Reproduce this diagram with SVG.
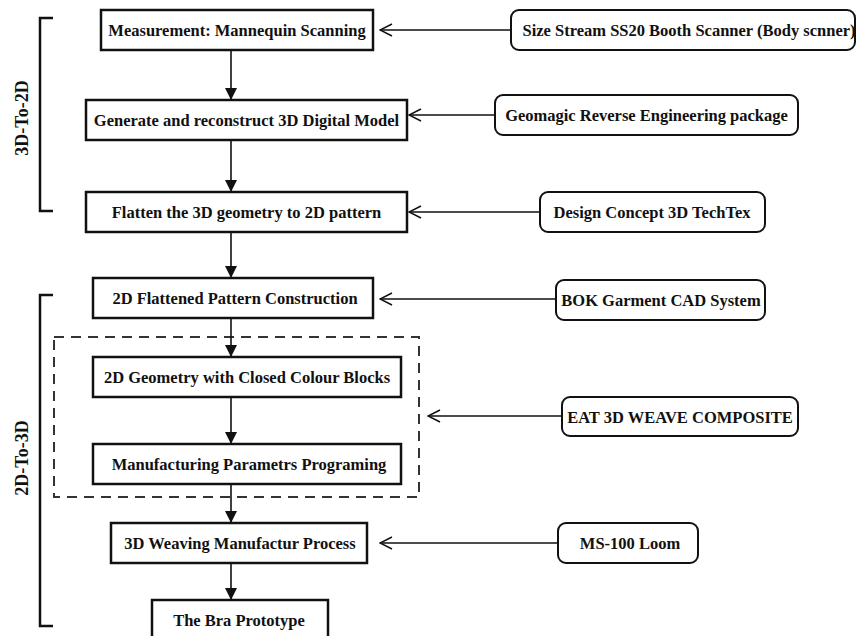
<svg xmlns="http://www.w3.org/2000/svg" width="857" height="636" viewBox="0 0 857 636">
<style>
.box{fill:#fff;stroke:#111;stroke-width:2.5}
.tool{fill:#fff;stroke:#111;stroke-width:2}
.t{font-family:"Liberation Serif","Times New Roman",serif;font-weight:bold;font-size:16.5px;fill:#111;text-anchor:middle}
.lbl{font-family:"Liberation Serif","Times New Roman",serif;font-weight:bold;font-size:18px;fill:#111;text-anchor:middle}
.flow{stroke:#111;stroke-width:1.6;fill:none}
.in{stroke:#111;stroke-width:1.4;fill:none}
.br{stroke:#111;stroke-width:2.5;fill:none}
.dash{stroke:#333;stroke-width:2;fill:none;stroke-dasharray:10 7}
</style>
<defs>
<marker id="tri" markerWidth="12" markerHeight="12" refX="12" refY="6" orient="auto" markerUnits="userSpaceOnUse">
<path d="M0,0 L12,6 L0,12 Z" fill="#111"/>
</marker>
<marker id="chev" markerWidth="14" markerHeight="14" refX="13" refY="7" orient="auto" markerUnits="userSpaceOnUse">
<path d="M1,1 L13,7 L1,13" fill="none" stroke="#111" stroke-width="1.5"/>
</marker>
</defs>

<g id="brackets">
<path class="br" d="M53,18 H40 V211 H53"/>
<text class="lbl" transform="translate(28,118) rotate(-90)">3D-To-2D</text>
<path class="br" d="M53,295 H40 V626 H53"/>
<text class="lbl" transform="translate(28,458) rotate(-90)">2D-To-3D</text>
</g>

<g id="group-dashed">
<rect class="dash" x="54" y="337" width="365" height="160"/>
</g>

<g id="connectors">
<line class="flow" x1="231" y1="50" x2="231" y2="100" marker-end="url(#tri)"/>
<line class="flow" x1="231" y1="140" x2="231" y2="192" marker-end="url(#tri)"/>
<line class="flow" x1="231" y1="232" x2="231" y2="278" marker-end="url(#tri)"/>
<line class="flow" x1="231" y1="318" x2="231" y2="357" marker-end="url(#tri)"/>
<line class="flow" x1="231" y1="397" x2="231" y2="444" marker-end="url(#tri)"/>
<line class="flow" x1="231" y1="484" x2="231" y2="523" marker-end="url(#tri)"/>
<line class="flow" x1="231" y1="563" x2="231" y2="600" marker-end="url(#tri)"/>
<line class="in" x1="510" y1="30" x2="380" y2="30" marker-end="url(#chev)"/>
<line class="in" x1="495" y1="115" x2="409" y2="115" marker-end="url(#chev)"/>
<line class="in" x1="540" y1="212" x2="409" y2="212" marker-end="url(#chev)"/>
<line class="in" x1="556" y1="299" x2="380" y2="299" marker-end="url(#chev)"/>
<line class="in" x1="562" y1="416" x2="428" y2="416" marker-end="url(#chev)"/>
<line class="in" x1="558" y1="543" x2="380" y2="543" marker-end="url(#chev)"/>
</g>

<g id="n1"><rect class="box" x="101" y="10" width="272" height="40"/><text class="t" x="237" y="36">Measurement: Mannequin Scanning</text></g>
<g id="n2"><rect class="box" x="86" y="100" width="321" height="40"/><text class="t" x="246.5" y="126">Generate and reconstruct 3D Digital Model</text></g>
<g id="n3"><rect class="box" x="86" y="192" width="321" height="40"/><text class="t" x="246.5" y="218">Flatten the 3D geometry to 2D pattern</text></g>
<g id="n4"><rect class="box" x="93" y="278" width="280" height="40"/><text class="t" x="235" y="304">2D Flattened Pattern Construction</text></g>
<g id="n5"><rect class="box" x="93" y="357" width="308" height="40"/><text class="t" x="247" y="383">2D Geometry with Closed Colour Blocks</text></g>
<g id="n6"><rect class="box" x="93" y="444" width="308" height="40"/><text class="t" x="249" y="470">Manufacturing Parametrs Programing</text></g>
<g id="n7"><rect class="box" x="111" y="523" width="256" height="40"/><text class="t" x="240" y="549">3D Weaving Manufactur Process</text></g>
<g id="n8"><rect class="box" x="152" y="600" width="176" height="44"/><text class="t" x="239" y="626">The Bra Prototype</text></g>

<g id="t1"><rect class="tool" x="511" y="10" width="344" height="40" rx="8"/><text class="t" x="689" y="36">Size Stream SS20 Booth Scanner (Body scnner)</text></g>
<g id="t2"><rect class="tool" x="495" y="95" width="303" height="40" rx="8"/><text class="t" x="646.5" y="121">Geomagic Reverse Engineering package</text></g>
<g id="t3"><rect class="tool" x="540" y="192" width="225" height="40" rx="8"/><text class="t" x="652" y="218">Design Concept 3D TechTex</text></g>
<g id="t4"><rect class="tool" x="556" y="280" width="209" height="40" rx="8"/><text class="t" x="661" y="306">BOK Garment CAD System</text></g>
<g id="t5"><rect class="tool" x="562" y="397" width="236" height="39" rx="8"/><text class="t" x="680" y="422.5">EAT 3D WEAVE COMPOSITE</text></g>
<g id="t6"><rect class="tool" x="558" y="523" width="140" height="40" rx="8"/><text class="t" x="630" y="549">MS-100 Loom</text></g>
</svg>
